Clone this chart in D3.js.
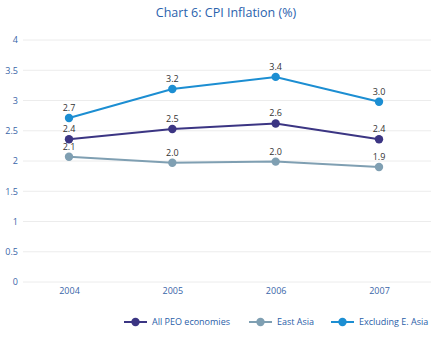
<!DOCTYPE html>
<html>
<head>
<meta charset="utf-8">
<script src="https://cdn.jsdelivr.net/npm/d3@7"></script>
<style>
  html, body { margin: 0; padding: 0; background: #fff; }
  svg { display: block; font-family: "Open Sans", "Noto Sans", sans-serif; }
</style>
</head>
<body>
<svg id="chart" width="440" height="340"></svg>
<script>
// CPI inflation, % per year
const years = ["2004", "2005", "2006", "2007"];
const allPeo = [2.36, 2.53, 2.62, 2.36];
const eastAsia = [2.07, 1.97, 1.99, 1.90];
const exEastAsia = [2.71, 3.19, 3.39, 2.98];
const seriesNames = ["All PEO economies", "East Asia", "Excluding E. Asia"];
const seriesColors = ["#3b3583", "#7f9fb2", "#1c8ed2"];
const yTicks = [0, 0.5, 1, 1.5, 2, 2.5, 3, 3.5, 4];
const yTickLabels = ["0", "0.5", "1", "1.5", "2", "2.5", "3", "3.5", "4"];

const series = [allPeo, eastAsia, exEastAsia].map((vals, i) => ({
  name: seriesNames[i], color: seriesColors[i],
  points: vals.map((v, j) => ({ year: years[j], value: v }))
}));

const svg = d3.select("#chart");
const plotLeft = 23, plotRight = 431, plotTop = 40, plotBottom = 282;

const x = d3.scalePoint().domain(years).range([69, 379]);
const y = d3.scaleLinear().domain([0, 4]).range([plotBottom, plotTop]);

// Title
svg.append("text")
  .attr("x", 226).attr("y", 17)
  .attr("text-anchor", "middle")
  .attr("font-size", 12.5)
  .attr("fill", "#2a62ad")
  .text("Chart 6: CPI Inflation (%)");

// Horizontal gridlines
svg.append("g").selectAll("line")
  .data(yTicks)
  .join("line")
  .attr("x1", plotLeft).attr("x2", plotRight)
  .attr("y1", d => y(d)).attr("y2", d => y(d))
  .attr("stroke", "#ececec").attr("stroke-width", 1);

// Y axis labels
const yAxis = d3.axisLeft(y).tickValues(yTicks)
  .tickFormat((d, i) => yTickLabels[i]).tickSize(0).tickPadding(5);
const gy = svg.append("g").attr("transform", `translate(${plotLeft},0)`).call(yAxis);
gy.select(".domain").remove();
gy.selectAll("text").attr("font-size", 9).attr("fill", "#3a66a8")
  .attr("font-family", "'Open Sans', sans-serif");

// X axis labels
const xAxis = d3.axisBottom(x).tickSize(0).tickPadding(6);
const gx = svg.append("g").attr("transform", `translate(0,${plotBottom})`).call(xAxis);
gx.select(".domain").remove();
gx.selectAll("text").attr("font-size", 9).attr("fill", "#3a66a8")
  .attr("font-family", "'Open Sans', sans-serif");

// Lines, markers, value labels
const line = d3.line().x(d => x(d.year)).y(d => y(d.value));
const fmt = d3.format(".1f");

series.forEach(s => {
  const g = svg.append("g");
  g.append("path")
    .datum(s.points)
    .attr("d", line)
    .attr("fill", "none")
    .attr("stroke", s.color)
    .attr("stroke-width", 2);
  g.selectAll("circle")
    .data(s.points)
    .join("circle")
    .attr("cx", d => x(d.year)).attr("cy", d => y(d.value))
    .attr("r", 4.2)
    .attr("fill", s.color);
  g.selectAll("text")
    .data(s.points)
    .join("text")
    .attr("x", d => x(d.year)).attr("y", d => y(d.value) - 7)
    .attr("text-anchor", "middle")
    .attr("font-size", 9)
    .attr("fill", "#333")
    .text(d => fmt(d.value));
});

// Legend
const legendX = [124, 249, 331];
const legend = svg.append("g");
series.forEach((s, i) => {
  const g = legend.append("g").attr("transform", `translate(${legendX[i]},322)`);
  g.append("line").attr("x1", 0).attr("x2", 23).attr("y1", 0).attr("y2", 0)
    .attr("stroke", s.color).attr("stroke-width", 2);
  g.append("circle").attr("cx", 11.5).attr("cy", 0).attr("r", 4.2).attr("fill", s.color);
  g.append("text").attr("x", 28).attr("y", 3.2)
    .attr("font-size", 9).attr("fill", "#2a5ea8")
    .text(s.name);
});
</script>
</body>
</html>
